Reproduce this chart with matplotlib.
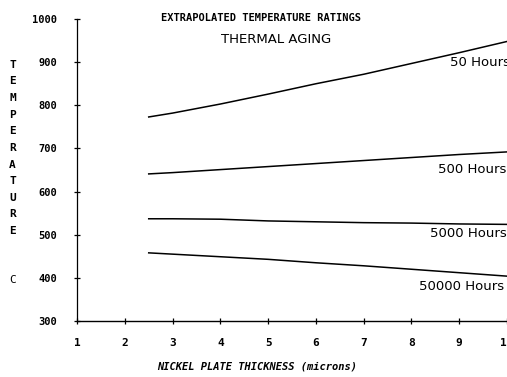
import matplotlib
matplotlib.use("Agg")
import matplotlib.pyplot as plt

# thickness in microns
x = [2.5, 3, 4, 5, 6, 7, 8, 9, 10]

# extrapolated temperature ratings (C)
t50 = [773, 782, 803, 826, 850, 872, 897, 922, 948]
t500 = [641, 644, 651, 658, 665, 672, 679, 686, 692]
t5000 = [537, 537, 536, 532, 530, 528, 527, 525, 524]
t50000 = [458, 455, 449, 443, 435, 428, 420, 412, 404]

series = [t50, t500, t5000, t50000]
labels = ["50 Hours", "500 Hours", "5000 Hours", "50000 Hours"]
label_pos = [(8.80, 900), (8.55, 651), (8.38, 504), (8.15, 380)]

xticks = [1, 2, 3, 4, 5, 6, 7, 8, 9, 10]
yticks = [300, 400, 500, 600, 700, 800, 900, 1000]

fig = plt.figure(figsize=(5.07, 3.77), dpi=100)
ax = fig.add_axes([0.152, 0.1485, 0.848, 0.801])

for s in series:
    ax.plot(x, s, color="black", lw=1.1)

for lab, (lx, ly) in zip(labels, label_pos):
    ax.text(lx, ly, lab, fontsize=9.5, family="DejaVu Sans", va="center", ha="left",
            clip_on=False)

ax.set_xlim(1, 10)
ax.set_ylim(300, 1000)
ax.set_xticks(xticks)
ax.set_yticks(yticks)
ax.set_xticklabels([str(v) for v in xticks], fontweight="bold", family="DejaVu Sans Mono", fontsize=8)
ax.set_yticklabels([str(v) for v in yticks], fontweight="bold", family="DejaVu Sans Mono", fontsize=7.5)
ax.tick_params(direction="inout", length=5, width=0.9, pad=12)
ax.tick_params(axis="x", pad=10)
for side in ["top", "right"]:
    ax.spines[side].set_visible(False)
ax.spines["left"].set_linewidth(0.9)
ax.spines["bottom"].set_linewidth(1.0)

ax.set_xlabel("NICKEL PLATE THICKNESS (microns)", fontsize=7.5, fontweight="bold",
              fontstyle="italic", family="DejaVu Sans Mono")
ax.xaxis.set_label_coords(0.419, -0.135)

fig.text(0.515, 0.952, "EXTRAPOLATED TEMPERATURE RATINGS", fontsize=7.5, fontweight="bold",
         family="DejaVu Sans Mono", ha="center", va="center")
fig.text(0.545, 0.894, "THERMAL AGING", fontsize=9.5, family="DejaVu Sans",
         ha="center", va="center")

# stacked vertical y label
word = "TEMPERATURE"
for i, ch in enumerate(word):
    fig.text(0.025, 0.828 - i * 0.0441, ch, fontsize=8, fontweight="bold",
             family="DejaVu Sans Mono", ha="center", va="center")
fig.text(0.025, 0.258, "C", fontsize=8, family="DejaVu Sans Mono", ha="center", va="center")

fig.savefig("out.png", dpi=100)
